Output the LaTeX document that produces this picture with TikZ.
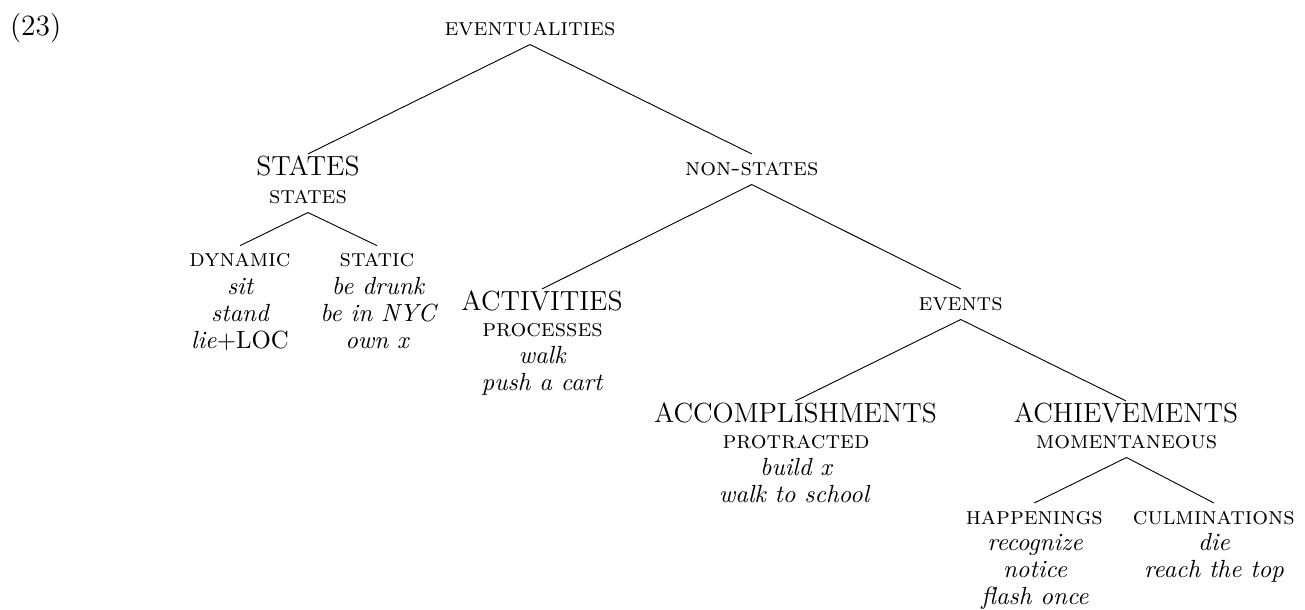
\documentclass[tikz,border=0pt]{standalone}
\begin{document}
\begin{tikzpicture}[x=0.4415pt,y=-0.4415pt,
  lbl/.style={inner sep=0pt,outer sep=0pt,anchor=base},
  sclbl/.style={lbl,font=\fontsize{10.95}{13.6}\selectfont\scshape},
  biglbl/.style={lbl,font=\fontsize{12.2}{14.5}\selectfont},
  exlbl/.style={lbl,font=\fontsize{10.95}{13.6}\selectfont\itshape},
  numlbl/.style={inner sep=0pt,outer sep=0pt,anchor=base west,font=\fontsize{13}{15.5}\selectfont},
  edge/.style={draw,line width=0.4pt}]
\useasboundingbox (0,0) rectangle (1305,609);
% number
\node[numlbl] (num) at (10,35) {(23)};
% root
\node[sclbl] (ev) at (530,35) {eventualities};
% states
\node[biglbl] (states) at (308,175) {STATES};
\node[sclbl] (statessc) at (308,203) {states};
\node[sclbl] (dyn) at (240,266.7) {dynamic};
\node[exlbl] (dyn1) at (240,294) {sit};
\node[exlbl] (dyn2) at (240,321) {stand};
\node[lbl,font=\fontsize{10.95}{13.6}\selectfont] (dyn3) at (240,348) {\textit{lie}+LOC};
\node[sclbl] (stat) at (377,266.7) {static};
\node[exlbl] (stat1) at (378,294) {be drunk};
\node[exlbl] (stat2) at (378,321) {be in NYC};
\node[exlbl] (stat3) at (377,348) {own x};
% non-states
\node[sclbl] (nonst) at (751.7,175) {non-states};
\node[biglbl] (act) at (542,310) {ACTIVITIES};
\node[sclbl] (proc) at (542.5,336.7) {processes};
\node[exlbl] (act1) at (542,363.3) {walk};
\node[exlbl] (act2) at (542,390) {push a cart};
\node[sclbl] (events) at (960.7,310) {events};
% accomplishments
\node[biglbl] (accom) at (795.5,422) {ACCOMPLISHMENTS};
\node[sclbl] (prot) at (796,448) {protracted};
\node[exlbl] (acc1) at (796,475) {build x};
\node[exlbl] (acc2) at (794,502) {walk to school};
% achievements
\node[biglbl] (achiev) at (1126,422) {ACHIEVEMENTS};
\node[sclbl] (moment) at (1126.5,448) {momentaneous};
\node[sclbl] (happ) at (1034.3,524) {happenings};
\node[exlbl] (hap1) at (1035,550.7) {recognize};
\node[exlbl] (hap2) at (1035,577.3) {notice};
\node[exlbl] (hap3) at (1035,604) {flash once};
\node[sclbl] (culm) at (1213.8,524) {culminations};
\node[exlbl] (cul1) at (1214,550.7) {die};
\node[exlbl] (cul2) at (1214,577.3) {reach the top};
% connectors
\draw[edge] ([yshift=9.3pt]states.base) -- ([yshift=-4.2pt]ev.base) -- ([yshift=9.3pt]nonst.base);
\draw[edge] ([yshift=9.3pt]dyn.base) -- ([yshift=-4.2pt]statessc.base) -- ([yshift=9.3pt]stat.base);
\draw[edge] ([yshift=9.3pt]act.base) -- ([yshift=-4.2pt]nonst.base) -- ([yshift=9.3pt]events.base);
\draw[edge] ([yshift=9.3pt]accom.base) -- ([yshift=-4.2pt]events.base) -- ([yshift=9.3pt]achiev.base);
\draw[edge] ([yshift=9.3pt]happ.base) -- ([yshift=-4.2pt]moment.base) -- ([yshift=9.3pt]culm.base);
\end{tikzpicture}
\end{document}
